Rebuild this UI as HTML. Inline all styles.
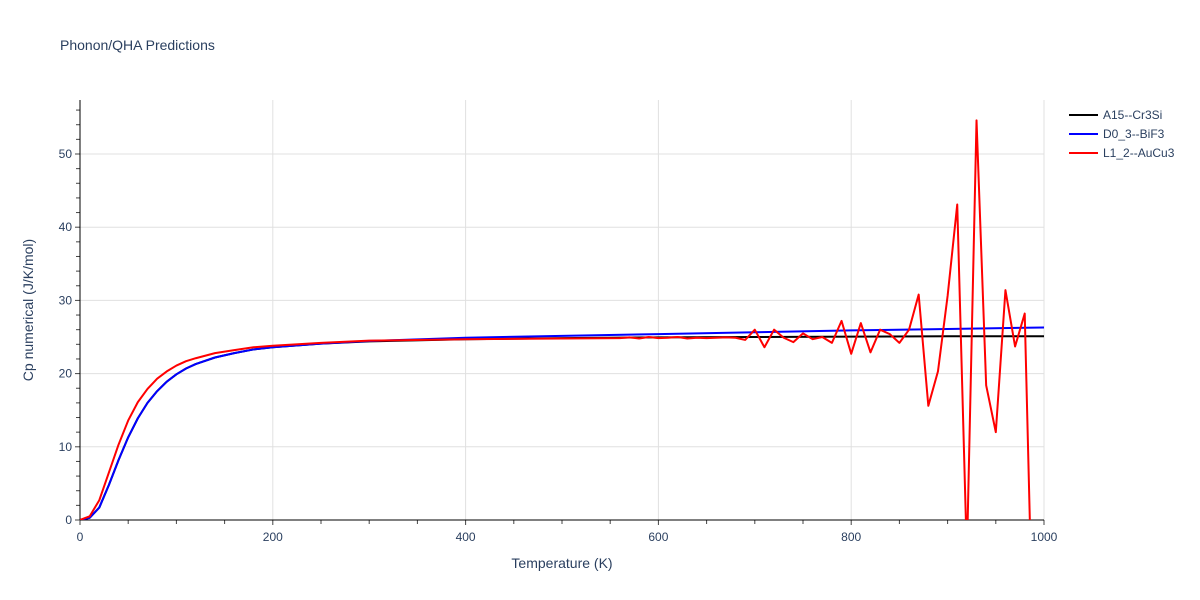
<!DOCTYPE html>
<html><head><meta charset="utf-8"><style>
html,body{margin:0;padding:0;background:#fff;overflow:hidden;width:1200px;height:600px;font-family:"Liberation Sans",Arial,sans-serif;}
svg{display:block;}
svg text{font-family:"Liberation Sans",Arial,sans-serif;fill:#2a3f5f;}
</style></head><body>
<svg id="chart" width="1200" height="600" xmlns="http://www.w3.org/2000/svg">
<rect width="1200" height="600" fill="#fff"/>
<text x="60" y="50" font-size="14">Phonon/QHA Predictions</text>
<g id="grid"></g><g id="axes"></g><g id="series"></g>
<text x="562" y="568" font-size="14" text-anchor="middle">Temperature (K)</text>
<text x="33" y="310" font-size="14" text-anchor="middle" transform="rotate(-90 33 310)">Cp numerical (J/K/mol)</text>
<g id="legend"></g>
</svg>
<script>
const smoothT=[0,10,20,30,40,50,60,70,80,90,100,110,120,140,160,180,200,250,300,400,500,600,700,800,900,1000];
const a15Cp=[0,0.3,1.7,4.8,8.2,11.3,13.9,16.0,17.6,18.9,19.9,20.7,21.3,22.2,22.8,23.3,23.6,24.1,24.4,24.7,24.85,24.95,25.0,25.05,25.1,25.1];
const d03Cp=[0,0.3,1.7,4.8,8.2,11.3,13.9,16.0,17.6,18.9,19.9,20.7,21.3,22.2,22.8,23.3,23.6,24.1,24.45,24.9,25.15,25.4,25.65,25.9,26.1,26.3];
const l12T=[0,10,20,30,40,50,60,70,80,90,100,110,120,140,160,180,200,250,300,400,500,560,570,580,590,600,610,620,630,640,650,660,670,680,690,700,710,720,730,740,750,760,770,780,790,800,810,820,830,840,850,860,870,880,890,900,910,920,930,940,950,960,970,980,990];
const l12Cp=[0,0.5,2.7,6.5,10.3,13.6,16.1,17.9,19.3,20.3,21.1,21.7,22.1,22.8,23.2,23.6,23.8,24.2,24.5,24.7,24.8,24.85,24.95,24.8,25.0,24.85,24.9,25.0,24.8,24.9,24.85,24.9,24.95,24.9,24.6,26.0,23.6,26.0,24.9,24.3,25.5,24.7,25.0,24.2,27.2,22.7,26.9,22.9,26.0,25.4,24.2,26.0,30.8,15.6,20.3,30.6,43.1,-5,54.6,18.4,12.0,31.4,23.7,28.2,-25];
const xTicks=[0,200,400,600,800,1000];
const yTicks=[0,10,20,30,40,50];
const legendLabels=["A15--Cr3Si","D0_3--BiF3","L1_2--AuCu3"];
const colors=["#000000","#0000ff","#ff0000"];
const X0=80,X1=1044,Y0=520,Y1=100;
const xs=t=>X0+(t/1000)*(X1-X0);
const ys=v=>Y0-v*7.32;
const NS="http://www.w3.org/2000/svg";
function mk(tag,attrs,parent){const e=document.createElementNS(NS,tag);for(const k in attrs)e.setAttribute(k,attrs[k]);parent.appendChild(e);return e;}
const grid=document.getElementById('grid'),axes=document.getElementById('axes'),series=document.getElementById('series'),legend=document.getElementById('legend');
xTicks.forEach(t=>{if(t>0){const l=mk('line',{x1:xs(t),x2:xs(t),y1:Y1,y2:Y0,stroke:'#e0e0e0','stroke-width':1},grid);

}
const tx=mk('text',{x:xs(t),y:541,'font-size':12,'text-anchor':'middle'},axes);tx.textContent=t;

});
yTicks.forEach(v=>{if(v>0){const l=mk('line',{x1:X0,x2:X1,y1:ys(v),y2:ys(v),stroke:'#e0e0e0','stroke-width':1},grid);

}
const tx=mk('text',{x:72,y:ys(v)+4,'font-size':12,'text-anchor':'end'},axes);tx.textContent=v;

});
for(let t=0;t<=1000;t+=50){mk('line',{x1:xs(t),x2:xs(t),y1:Y0,y2:Y0+(t%200==0?5:4),stroke:'#444'},axes);}
for(let v=0;v<=56;v+=2){mk('line',{x1:X0,x2:X0-(v%10==0?5:4),y1:ys(v),y2:ys(v),stroke:'#444'},axes);}
const xa=mk('line',{x1:X0,x2:X1,y1:Y0,y2:Y0,stroke:'#000','stroke-width':1},axes);


const ya=mk('line',{x1:X0,x2:X0,y1:Y1,y2:Y0,stroke:'#000','stroke-width':1},axes);


mk('clipPath',{id:'clip'},series);
mk('rect',{x:X0,y:Y1-10,width:X1-X0,height:Y0-Y1+10},document.getElementById('clip'));
const g=mk('g',{'clip-path':'url(#clip)'},series);
function line(T,V,c,name){const p=mk('polyline',{points:T.map((t,i)=>xs(t)+','+ys(V[i])).join(' '),fill:'none',stroke:c,'stroke-width':2,'stroke-linejoin':'round'},g);

}
line(smoothT,a15Cp,colors[0],'a15-cr3si-line');
line(smoothT,d03Cp,colors[1],'d03-bif3-line');
line(l12T,l12Cp,colors[2],'l12-aucu3-line');
legendLabels.forEach((lab,i)=>{const y=115+i*19;
const gg=mk('g',{},legend);


mk('line',{x1:1069,x2:1098,y1:y,y2:y,stroke:colors[i],'stroke-width':2},gg);
const t=mk('text',{x:1103,y:y+4,'font-size':12},gg);t.textContent=lab;});
</script>
</body></html>
